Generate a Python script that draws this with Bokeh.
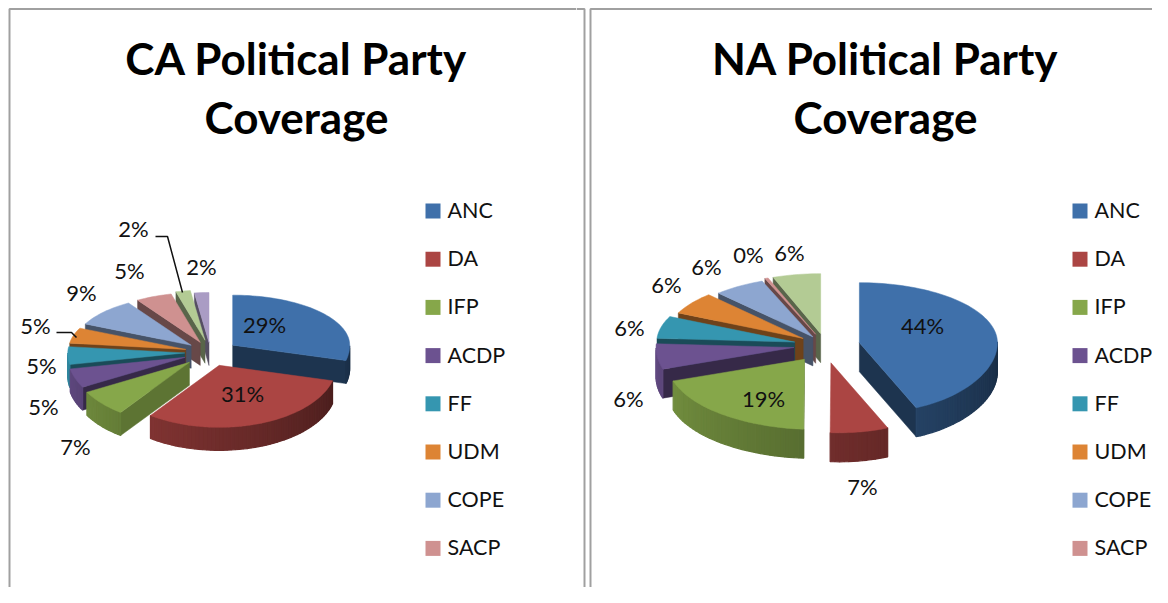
import numpy as np
from bokeh.core.properties import value
from bokeh.embed import file_html
from bokeh.layouts import row
from bokeh.models import Range1d
from bokeh.plotting import figure
from bokeh.resources import INLINE

# ---- data
parties = ["ANC", "DA", "IFP", "ACDP", "FF", "UDM", "COPE", "SACP"]
ca_values = [29, 31, 7, 5, 5, 5, 9, 5, 2, 2]
na_values = [44, 7, 19, 6, 6, 6, 6, 0.4, 5.6]
na_shown = [44, 7, 19, 6, 6, 6, 6, 0, 6]
colors = ["#3f70aa", "#ab4543", "#86a74a", "#6c5290", "#3596b0",
          "#dd8434", "#8da6d0", "#cf9190", "#b3cb94", "#aa9cc4"]
wall_shades = [.47, .5, .7, .5, .5, .5, .5, .5, .5, .5]

# ---- layout / style
FONT = "Lato"
W, H = 1152, 587
ca_geom = dict(cx=210, cy=352, rx=117, back=50, front=62, depth=23, skew=0)
na_geom = dict(cx=825, cy=345, rx=138, back=60, front=70, depth=29, skew=8)
ca_explode = [.24, .22, .24, .23, .22, .22, .22, .22, .25, .2]
na_explode = [.25, .25, .25, .23, .23, .2, .17, .2, .2]
ca_label_xy = [(264, 326), (242, 395), (75, 448), (43, 408), (41, 367), (35, 327),
               (81, 294), (129, 272), (133, 230), (201, 268)]
na_label_xy = [(922, 327), (862, 488), (763, 400), (628, 400), (629, 329), (666, 286),
               (706, 268), (748, 256), (789, 254)]
LEGEND_TOP, LEGEND_PITCH = 210.5, 48.2


def shade(hex_color, f):
    rgb = [int(hex_color[i:i + 2], 16) for i in (1, 3, 5)]
    return "#%02x%02x%02x" % tuple(int(c * f) for c in rgb)


def point(g, deg, factor=1.0):
    """Screen offset of a point on the tilted, slightly perspective rim."""
    t = np.radians(deg)
    ry = np.where(np.cos(t) >= 0, g["back"], g["front"])
    return g["rx"] * np.sin(t) * factor, -ry * np.cos(t) * factor


def rim(g, deg):
    x, y = point(g, deg)
    c = np.cos(np.radians(deg))
    return x + g["skew"] * np.clip(-c, 0, 1) ** 4, y


def draw_pie(p, vals, g, explode):
    edges = np.concatenate([[0], np.cumsum(vals)]) / np.sum(vals) * 360
    order = sorted(range(len(vals)), key=lambda i: -np.cos(np.radians((edges[i] + edges[i + 1]) / 2)))
    for i in order:
        a0, a1 = edges[i], edges[i + 1]
        col = colors[i]
        ex, ey = point(g, (a0 + a1) / 2, explode[i])
        ax, ay = g["cx"] + ex, g["cy"] + ey
        d = g["depth"]
        arc = np.linspace(a0, a1, max(int((a1 - a0) / 2) + 2, 3))
        ox, oy = rim(g, arc)
        ox, oy = ax + ox, ay + oy
        # cut faces that turn towards the viewer
        for ang, vis in ((a0, np.sin(np.radians(a0)) < 0), (a1, np.sin(np.radians(a1)) > 0)):
            if vis:
                ex2, ey2 = rim(g, ang)
                xs = [ax, ax + ex2, ax + ex2, ax]
                ys = [ay, ay + ey2, ay + ey2 + d, ay + d]
                c = shade(col, wall_shades[i])
                p.patch(xs, ys, fill_color=c, line_color=c, line_width=.5)
        # outer rim, shaded left to right
        for j in range(len(arc) - 1):
            m = (arc[j] + arc[j + 1]) / 2
            if np.cos(np.radians(m)) < 0:
                c = shade(col, .4 + .5 * (m - 90) / 180)
                p.patch([ox[j], ox[j + 1], ox[j + 1], ox[j]],
                        [oy[j], oy[j + 1], oy[j + 1] + d, oy[j] + d],
                        fill_color=c, line_color=c, line_width=1.2)
        p.patch(np.r_[ax, ox], np.r_[ay, oy], fill_color=col, line_color=col, line_width=.5)


def base(x0, x1):
    p = figure(width=W // 2, height=H, x_range=Range1d(x0, x1), y_range=Range1d(H, 0),
               toolbar_location=None, output_backend="svg", min_border=0,
               outline_line_color=None, background_fill_color="white")
    p.axis.visible = False
    p.grid.visible = False
    return p


def labels(p, xy, texts, size="22px", style="normal", col="#111111", lift=2):
    p.text([a for a, _ in xy], [b - lift for _, b in xy], text=texts, text_font=value(FONT),
           text_font_size=size, text_font_style=style, text_align="center",
           text_baseline="middle", text_color=col)


def legend(p, x):
    ys = [LEGEND_TOP + LEGEND_PITCH * i for i in range(len(parties))]
    p.scatter([x] * len(ys), ys, marker="square", size=15, fill_color=colors[:len(ys)], line_color=None)
    p.text([x + 14.5] * len(ys), [y - 1 for y in ys], text=parties, text_font=value(FONT),
           text_font_size="21.5px", text_align="left", text_baseline="middle", text_color="#111111")


BORDER = "#a0a0a0"

left = base(0, W // 2)
left.line([9, 9, W // 2], [H, 8.5, 8.5], line_color=BORDER, line_width=2)
labels(left, [(296, 60), (296, 119)], ["CA Political Party", "Coverage"], "44px", "bold", "#000000", 3)
draw_pie(left, ca_values, ca_geom, ca_explode)
labels(left, ca_label_xy, [f"{v}%" for v in ca_values])
left.line([155, 167, 182], [236, 236, 292], line_color="#111111", line_width=1.5)
left.line([56, 71, 76], [332, 332, 337], line_color="#111111", line_width=1.5)
legend(left, 432.5)

right = base(W // 2, W)
right.line([W // 2, 584, 584], [8.5, 8.5, H], line_color=BORDER, line_width=2)
right.line([590, 590, W], [H, 8.5, 8.5], line_color=BORDER, line_width=2)
labels(right, [(885, 60), (885, 119)], ["NA Political Party", "Coverage"], "44px", "bold", "#000000", 3)
draw_pie(right, na_values, na_geom, na_explode)
labels(right, na_label_xy, [f"{v}%" for v in na_shown])
legend(right, 1079.5)

layout = row(left, right, spacing=0)
open("out.html", "w").write(file_html(layout, INLINE))
